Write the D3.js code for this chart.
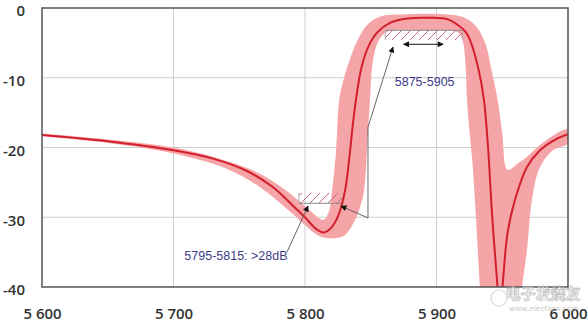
<!DOCTYPE html>
<html>
<head>
<meta charset="utf-8">
<script src="https://cdn.jsdelivr.net/npm/d3@7"></script>
<style>
body { margin: 0; background: #fff; }
svg { display: block; }
.axis text { font-family: "Open Sans", sans-serif; font-weight: 600; font-size: 15px; fill: #333; }
.note { font-family: "Liberation Sans", Arial, sans-serif; font-size: 12.5px; fill: #3c3c86; }
</style>
</head>
<body>
<svg id="chart" width="588" height="323"></svg>
<script>
// filter response, frequency in MHz, attenuation in dB
lineFreq = [5600, 5650, 5700, 5730, 5755, 5775, 5790, 5800, 5808, 5814, 5819, 5824, 5828, 5831, 5834, 5836.5, 5839, 5843, 5848, 5855, 5865, 5878, 5895, 5908, 5916, 5922, 5925.5, 5931.6, 5936.1, 5939.2, 5942.2, 5946, 5948.3, 5950.6, 5954, 5959.7, 5968.8, 5978.7, 5990, 6000];
lineDb = [-18.2, -19.1, -20.4, -21.6, -23.3, -25.6, -28.2, -30.0, -31.6, -32.2, -31.7, -30.3, -28.2, -25.6, -21.0, -16.5, -12.8, -8.5, -5.6, -3.5, -2.1, -1.5, -1.4, -1.6, -2.4, -3.4, -4.6, -8.5, -13.2, -20.0, -29.4, -39.0, -44.0, -39.0, -32.3, -27.5, -22.8, -20.4, -18.9, -18.1];

// tolerance band, upper edge
bandHiFreq = [5600, 5650, 5700, 5740, 5765, 5785, 5800, 5809, 5814, 5818, 5821, 5823.5, 5826, 5829, 5833, 5840, 5848, 5858, 5880, 5905, 5920, 5930, 5937, 5942, 5946.5, 5950, 5954, 5962, 5969, 5981, 6000];
bandHiDb = [-18.0, -18.85, -20.0, -21.9, -23.7, -26.1, -28.4, -29.9, -30.4, -29.3, -25.5, -20.8, -13.2, -10.5, -8.0, -4.6, -2.3, -1.2, -0.9, -0.9, -1.3, -2.6, -5.0, -9.0, -13.2, -18.0, -23.2, -22.3, -21.3, -19.3, -17.4];

// tolerance band, lower edge
bandLoFreq = [5600, 5650, 5700, 5740, 5765, 5785, 5800, 5810, 5820, 5830, 5838, 5843.5, 5845.6, 5847.5, 5849.4, 5851, 5854, 5858, 5864, 5890, 5914, 5918, 5920.5, 5922.2, 5923.2, 5925.5, 5927.7, 5930, 5933, 5935, 5962, 5965, 5968.8, 5972.6, 5978.7, 5988.6, 6000];
bandLoDb = [-18.4, -19.35, -20.85, -23.0, -25.6, -28.6, -31.1, -32.6, -33.0, -32.6, -30.4, -27.5, -25.0, -19.0, -13.2, -8.5, -5.6, -4.1, -3.3, -3.2, -3.3, -3.8, -5.2, -8.5, -13.2, -18.5, -23.0, -30.0, -40.0, -45.0, -45.0, -40.0, -34.7, -27.5, -22.8, -20.4, -19.4];

xTicks = [5600, 5700, 5800, 5900, 6000];
xTickLabels = ["5 600", "5 700", "5 800", "5 900", "6 000"];
yTicks = [0, -10, -20, -30, -40];

// spec masks: [f0, f1, dbTop, dbBottom]
maskPass = [5861, 5920, -3.2, -4.6];
maskStop = [5795.4, 5829, -26.5, -28.0];
passArrow = [5875, 5905, -5.2];
passLabel = "5875-5905";
stopLabel = "5795-5815: >28dB";

plotLeft = 42; plotRight = 568; plotTop = 8; plotBottom = 287;

x = d3.scaleLinear().domain([5600, 6000]).range([plotLeft, plotRight]);
y = d3.scaleLinear().domain([0, -40]).range([plotTop, plotBottom]);

svg = d3.select("#chart");
defs = svg.append("defs");

defs.append("clipPath").attr("id", "plotClip")
    .append("rect")
    .attr("x", plotLeft).attr("y", plotTop)
    .attr("width", plotRight - plotLeft).attr("height", plotBottom - plotTop);

pat = defs.append("pattern")
    .attr("id", "hatch")
    .attr("patternUnits", "userSpaceOnUse")
    .attr("width", 9).attr("height", 9);
pat.append("path")
    .attr("d", "M0,9 L9,0 M-2,2 L2,-2 M7,11 L11,7")
    .attr("stroke", "#c06a7a")
    .attr("stroke-width", 1);

defs.append("marker")
    .attr("id", "head")
    .attr("viewBox", "0 0 10 10")
    .attr("refX", 9).attr("refY", 5)
    .attr("markerWidth", 8).attr("markerHeight", 6)
    .attr("markerUnits", "userSpaceOnUse")
    .attr("orient", "auto-start-reverse")
    .append("path")
    .attr("d", "M0,0 L10,5 L0,10 Z")
    .attr("fill", "#111");

// grid
svg.append("g")
    .selectAll("line")
    .data(xTicks.slice(1, -1)).enter()
    .append("line")
    .attr("x1", (d) => x(d)).attr("x2", (d) => x(d))
    .attr("y1", plotTop).attr("y2", plotBottom)
    .attr("stroke", "#cfcfcf");
svg.append("g")
    .selectAll("line")
    .data(yTicks.slice(1, -1)).enter()
    .append("line")
    .attr("x1", plotLeft).attr("x2", plotRight)
    .attr("y1", (d) => y(d)).attr("y2", (d) => y(d))
    .attr("stroke", "#cfcfcf");

plot = svg.append("g").attr("clip-path", "url(#plotClip)");

// tolerance band
hi = bandHiFreq.map((f, i) => [x(f), y(bandHiDb[i])]);
lo = bandLoFreq.map((f, i) => [x(f), y(bandLoDb[i])]).reverse();
bandPath = d3.line().curve(d3.curveCatmullRom.alpha(0.5));
plot.append("path")
    .attr("d", bandPath(hi.concat(lo)) + "Z")
    .attr("fill", "#f5a4a7");

// masks
function drawMask(m, edge) {
    g = plot.append("g");
    g.append("rect")
        .attr("x", x(m[0])).attr("y", y(m[2]))
        .attr("width", x(m[1]) - x(m[0]))
        .attr("height", y(m[3]) - y(m[2]))
        .attr("fill", "url(#hatch)");
    ey = edge == "top" ? y(m[2]) : y(m[3]);
    g.append("line")
        .attr("x1", x(m[0])).attr("x2", x(m[1]))
        .attr("y1", ey).attr("y2", ey)
        .attr("stroke", "#8a8a8a");
    [m[0], m[1]].forEach((f) => {
        g.append("line")
            .attr("x1", x(f)).attr("x2", x(f))
            .attr("y1", y(m[2])).attr("y2", y(m[3]))
            .attr("stroke", "#b0b0b0");
    });
}
drawMask(maskPass, "top");
drawMask(maskStop, "bottom");

// response line
respLine = d3.line()
    .x((d, i) => x(lineFreq[i]))
    .y((d) => y(d))
    .curve(d3.curveCatmullRom.alpha(0.5));
plot.append("path")
    .attr("d", respLine(lineDb))
    .attr("fill", "none")
    .attr("stroke", "#d21f2e")
    .attr("stroke-width", 2);

// frame
svg.append("rect")
    .attr("x", plotLeft).attr("y", plotTop)
    .attr("width", plotRight - plotLeft).attr("height", plotBottom - plotTop)
    .attr("fill", "none")
    .attr("stroke", "#555")
    .attr("stroke-width", 1.5);

// axes
xAxis = svg.append("g")
    .attr("class", "axis")
    .attr("transform", "translate(0," + plotBottom + ")")
    .call(d3.axisBottom(x).tickValues(xTicks).tickSize(0).tickPadding(21)
        .tickFormat((d, i) => xTickLabels[i]));
xAxis.select(".domain").remove();

yAxis = svg.append("g")
    .attr("class", "axis")
    .attr("transform", "translate(" + plotLeft + ",3)")
    .call(d3.axisLeft(y).tickValues(yTicks).tickSize(0).tickPadding(17)
        .tickFormat((d) => d));
yAxis.select(".domain").remove();
svg.selectAll(".axis text").attr("fill", "#333");

// annotations
ann = svg.append("g");
ann.append("line")
    .attr("x1", x(passArrow[0])).attr("x2", x(passArrow[1]))
    .attr("y1", y(passArrow[2])).attr("y2", y(passArrow[2]))
    .attr("stroke", "#111")
    .attr("marker-start", "url(#head)")
    .attr("marker-end", "url(#head)");

// leader from the passband mask to the stopband edge
leaderPts = [[5866.9, -5.6], [5847.9, -17.1], [5847.9, -30.1], [5827.4, -28.4]];
ann.append("path")
    .attr("d", d3.line()(leaderPts.map((p) => [x(p[0]), y(p[1])])))
    .attr("fill", "none")
    .attr("stroke", "#555")
    .attr("stroke-width", 0.9)
    .attr("marker-start", "url(#head)")
    .attr("marker-end", "url(#head)");

// leader from stopband label
stopLeader = [[5786.3, -35.0], [5802.3, -28.4]];
ann.append("path")
    .attr("d", d3.line()(stopLeader.map((p) => [x(p[0]), y(p[1])])))
    .attr("fill", "none")
    .attr("stroke", "#555")
    .attr("stroke-width", 0.9)
    .attr("marker-end", "url(#head)");

ann.append("text")
    .attr("class", "note")
    .attr("x", x(5891)).attr("y", y(-10.6) + 4)
    .attr("text-anchor", "middle")
    .text(passLabel);
ann.append("text")
    .attr("class", "note")
    .attr("x", x(5747.5)).attr("y", y(-35.6) + 4)
    .attr("text-anchor", "middle")
    .text(stopLabel);

// watermark
wm = svg.append("g").attr("opacity", 0.75);
wm.append("text")
    .attr("x", 543).attr("y", 299)
    .attr("text-anchor", "middle")
    .style("font-family", "Noto Sans CJK SC")
    .style("font-size", "15px")
    .style("font-weight", "bold")
    .attr("fill", "#fff")
    .attr("stroke", "#aaa")
    .attr("stroke-width", 0.8)
    .text("电子发烧友");
wm.append("text")
    .attr("x", 544).attr("y", 311)
    .attr("text-anchor", "middle")
    .style("font-family", "DejaVu Sans")
    .style("font-size", "7.5px")
    .attr("fill", "#bbb")
    .text("www.elecfans.com");
wm.append("circle")
    .attr("cx", 499).attr("cy", 298).attr("r", 8)
    .attr("fill", "none")
    .attr("stroke", "#ccc")
    .attr("stroke-width", 1.2);
</script>
</body>
</html>
